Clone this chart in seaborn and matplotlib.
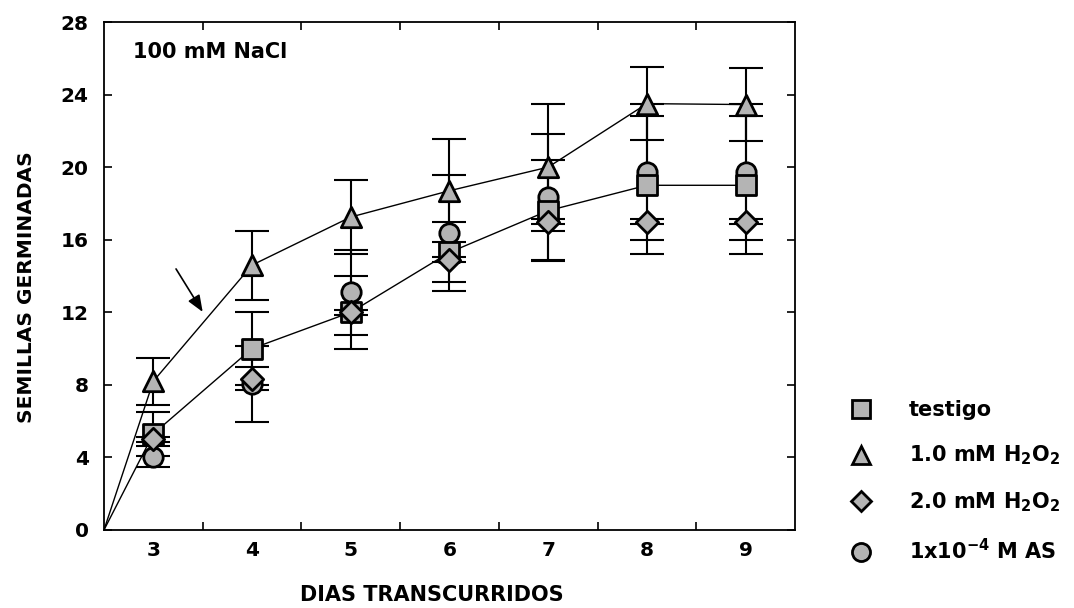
import numpy as np
import pandas as pd
import matplotlib
matplotlib.use('Agg')
import matplotlib.pyplot as plt
from matplotlib.lines import Line2D
from matplotlib.ticker import FixedLocator, NullFormatter
import seaborn as sns

# Data
days = [3, 4, 5, 6, 7, 8, 9]
start_day = 2.5
start_value = 0

testigo = [5.3, 10.0, 12.0, 15.3, 17.6, 19.0, 19.0]
testigo_err = [1.2, 2.0, 2.0, 1.65, 2.8, 3.8, 3.8]

h2o2_1 = [8.2, 14.6, 17.25, 18.7, 20.0, 23.5, 23.45]
h2o2_1_err = [1.3, 1.9, 2.05, 2.85, 3.5, 2.0, 2.0]

h2o2_2 = [5.0, 8.35, 12.0, 14.9, 17.0, 17.0, 17.0]
h2o2_2_err = [0.15, 0.65, 0.15, 0.15, 0.15, 0.15, 0.15]

as_vals = [4.05, 8.05, 13.1, 16.35, 18.35, 19.75, 19.75]
as_err = [0.6, 2.1, 2.35, 3.2, 3.45, 3.75, 3.75]

labels = ['testigo', r'1.0 mM H$_2$O$_2$', r'2.0 mM H$_2$O$_2$', r'1x10$^{-4}$ M AS']

GREY = '#b4b4b4'

sns.set_style('ticks')
plt.rcParams['font.family'] = ['DejaVu Sans']
plt.rcParams['font.weight'] = 'bold'
plt.rcParams['text.color'] = 'black'
plt.rcParams['axes.labelcolor'] = 'black'
plt.rcParams['xtick.color'] = 'black'
plt.rcParams['ytick.color'] = 'black'
plt.rcParams['mathtext.fontset'] = 'custom'
plt.rcParams['mathtext.rm'] = 'DejaVu Sans:bold'
plt.rcParams['mathtext.it'] = 'DejaVu Sans:bold'
plt.rcParams['mathtext.bf'] = 'DejaVu Sans:bold'

fig = plt.figure(figsize=(10.74, 6.08), dpi=100)
ax = fig.add_axes([0.0968, 0.1283, 0.6434, 0.8355])

# connecting lines (testigo and 1.0 mM H2O2)
sns.lineplot(x=[start_day] + days, y=[start_value] + testigo, color='black',
             lw=1, estimator=None, sort=False, ax=ax, zorder=1)
sns.lineplot(x=[start_day] + days, y=[start_value] + h2o2_1, color='black',
             lw=1, estimator=None, sort=False, ax=ax, zorder=1)

series = [
    (as_vals, as_err, 'o', 195),
    (testigo, testigo_err, 's', 200),
    (h2o2_2, h2o2_2_err, 'D', 130),
    (h2o2_1, h2o2_1_err, '^', 215),
]

for vals, err, mk, size in series:
    ax.errorbar(days, vals, yerr=err, fmt='none', ecolor='black',
                elinewidth=1.5, capsize=12, capthick=1.5, zorder=2)

for i, (vals, err, mk, size) in enumerate(series):
    sns.scatterplot(x=days, y=vals, marker=mk, s=size, color=GREY,
                    edgecolor='black', linewidth=2, ax=ax, zorder=3 + i)

ax.set_xlim(2.5, 9.5)
ax.set_ylim(0, 28)

ax.xaxis.set_major_locator(FixedLocator(np.arange(3.5, 9.0, 1.0)))
ax.xaxis.set_major_formatter(NullFormatter())
ax.set_xticks(days, minor=True)
ax.set_xticklabels([str(d) for d in days], minor=True)
ax.set_yticks(range(0, 29, 4))

ax.tick_params(axis='both', which='major', direction='in', top=True, right=True,
               length=6, width=1.2, labelsize=14.5)
ax.tick_params(axis='y', which='major', pad=11)
ax.tick_params(axis='x', which='minor', length=0, pad=8, labelsize=14.5)
ax.tick_params(axis='y', which='minor', length=0)

for s in ax.spines.values():
    s.set_visible(True)
    s.set_linewidth(1.3)
    s.set_color('black')

ax.set_xlabel('DIAS TRANSCURRIDOS', fontsize=15, fontweight='bold')
ax.set_ylabel('SEMILLAS GERMINADAS', fontsize=14.5, fontweight='bold')
ax.xaxis.set_label_coords(0.475, -0.108)
ax.yaxis.set_label_coords(-0.098, 0.478)

ax.text(2.79, 26.35, '100 mM NaCl', fontsize=15, fontweight='bold',
        ha='left', va='center')

ax.annotate('', xy=(3.50, 12.02), xytext=(3.23, 14.39),
            arrowprops=dict(arrowstyle='-|>,head_length=1.0,head_width=0.4',
                            color='black', lw=1.2, shrinkA=0, shrinkB=0))

handles = [
    Line2D([], [], ls='none', marker='s', ms=13, mfc=GREY, mec='black', mew=2),
    Line2D([], [], ls='none', marker='^', ms=13.5, mfc=GREY, mec='black', mew=2),
    Line2D([], [], ls='none', marker='D', ms=10, mfc=GREY, mec='black', mew=2),
    Line2D([], [], ls='none', marker='o', ms=13, mfc=GREY, mec='black', mew=2),
]
fig.legend(handles, labels, loc='upper left', bbox_to_anchor=(0.784, 0.355),
           frameon=False, fontsize=15, labelspacing=1.12, handletextpad=1.8,
           handlelength=1.0, borderaxespad=0)

fig.savefig('out.png', dpi=100, facecolor='white')
